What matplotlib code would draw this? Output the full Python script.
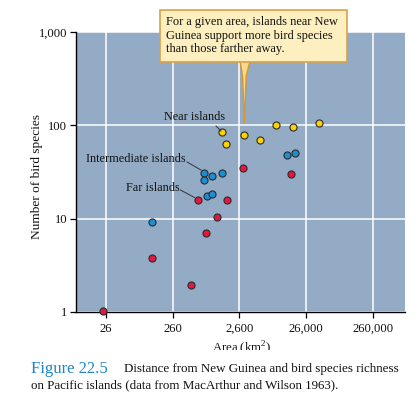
import matplotlib
matplotlib.use("Agg")
import matplotlib.pyplot as plt
from matplotlib.patches import Rectangle, Polygon
from matplotlib.ticker import FixedLocator, FixedFormatter, NullLocator

plt.rcParams['font.family'] = ['Liberation Serif', 'DejaVu Serif']
plt.rcParams['mathtext.fontset'] = 'custom'
plt.rcParams['mathtext.rm'] = 'Liberation Serif'

# Data (area km^2, number of bird species)
near_area = [1430, 1630, 3050, 5230, 9060, 16400, 40200]
near_species = [85, 63, 79, 69, 102, 97, 105]

inter_area = [126, 772, 772, 993, 1400, 845, 1004, 13400, 17400]
inter_species = [9.2, 31, 26, 28.3, 31.2, 17.5, 18.4, 47.6, 50]

far_area = [23.5, 126, 494, 817, 1180, 621, 1700, 2950, 15500]
far_species = [1.02, 3.78, 1.94, 7.0, 10.4, 15.7, 16, 34.5, 30]

xticks = [26, 260, 2600, 26000, 260000]
xticklabels = ['26', '260', '2,600', '26,000', '260,000']
yticks = [1, 10, 100, 1000]
yticklabels = ['1', '10', '100', '1,000']

W, H = 420, 399
fig = plt.figure(figsize=(W / 100, H / 100), dpi=100)

def fx(px):
    return px / W

def fy(py):
    return 1 - py / H

ax = fig.add_axes([fx(76), fy(312), fx(405) - fx(76), fy(32) - fy(312)])
ax.set_facecolor('#93abc5')
ax.set_xscale('log')
ax.set_yscale('log')
ax.set_xlim(9.3, 780000)
ax.set_ylim(1, 1000)

ax.xaxis.set_major_locator(FixedLocator(xticks))
ax.xaxis.set_major_formatter(FixedFormatter(xticklabels))
ax.yaxis.set_major_locator(FixedLocator(yticks))
ax.yaxis.set_major_formatter(FixedFormatter(yticklabels))
ax.xaxis.set_minor_locator(NullLocator())
ax.yaxis.set_minor_locator(NullLocator())
ax.grid(True, which='major', color='white', linewidth=1.1)
ax.set_axisbelow(True)
for s in ['top', 'right']:
    ax.spines[s].set_visible(False)
for s in ['left', 'bottom']:
    ax.spines[s].set_color('black')
    ax.spines[s].set_linewidth(1.0)
ax.tick_params(axis='both', length=4.3, width=0.9, color='black', labelsize=9.1,
               labelcolor='#111111')
ax.tick_params(axis='x', pad=3.5)
ax.tick_params(axis='y', pad=2)

mk = dict(s=26, edgecolors='#2a2a2a', linewidths=0.8, zorder=3, clip_on=False)
ax.scatter(near_area, near_species, c='#ffd200', **mk)
ax.scatter(inter_area, inter_species, c='#1a8fd6', **mk)
ax.scatter(far_area, far_species, c='#e3173f', **mk)

# Group labels with leader lines (figure pixel coordinates)
def label(text, tx, ty, x0, y0, x1, y1):
    fig.text(fx(tx), fy(ty), text, ha='right', va='center', fontsize=8.8, color='#111111')
    fig.add_artist(plt.Line2D([fx(x0), fx(x1)], [fy(y0), fy(y1)], color='#333333', linewidth=0.7))

label('Near islands', 225.5, 116.5, 216, 126, 221, 131)
label('Intermediate islands', 185.5, 159.5, 187, 162, 201, 170)
label('Far islands', 179.5, 188.5, 180.5, 190, 194.5, 197.5)

# Callout box with pointer
pts = [(240, 61), (242.6, 76), (244.3, 123), (246.2, 76), (250, 61)]
pointer = Polygon([(fx(a), fy(b)) for a, b in pts],
                  closed=True, facecolor='#f6d98a', edgecolor='#d9962e', linewidth=1.0,
                  transform=fig.transFigure, zorder=4)
fig.add_artist(pointer)
box = Rectangle((fx(159.5), fy(62)), fx(347) - fx(159.5), fy(9.5) - fy(62),
                facecolor='#fdefbf', edgecolor='#d9a14a', linewidth=1.2,
                transform=fig.transFigure, zorder=5)
fig.add_artist(box)
fig.text(fx(166.5), fy(35.5),
         'For a given area, islands near New\nGuinea support more bird species\nthan those farther away.',
         ha='left', va='center', fontsize=8.9, linespacing=1.12, color='#111111', zorder=6)

# Axis labels
fig.text(fx(37), fy(176.5), 'Number of bird species', rotation=90, ha='center', va='center',
         fontsize=9.6, color='#111111')
fig.text(fx(242), fy(352), r'Area (km$^{2}$)', ha='center', va='baseline', fontsize=9.2,
         color='#111111')

# White band hiding the lower part of the x label (as in the reference)
fig.add_artist(Rectangle((0, 0), 1, fy(349.5), facecolor='white', edgecolor='none',
                         transform=fig.transFigure, zorder=7))

# Caption
fig.text(fx(30.5), fy(369), 'Figure 22.5', ha='left', va='center', fontsize=12,
         color='#2184c6', zorder=8)
fig.text(fx(124), fy(369), 'Distance from New Guinea and bird species richness',
         ha='left', va='center', fontsize=9.35, color='#111111', zorder=8)
fig.text(fx(30.5), fy(385.5), 'on Pacific islands (data from MacArthur and Wilson 1963).',
         ha='left', va='center', fontsize=9.35, color='#111111', zorder=8)

fig.savefig('out.png', dpi=100)
